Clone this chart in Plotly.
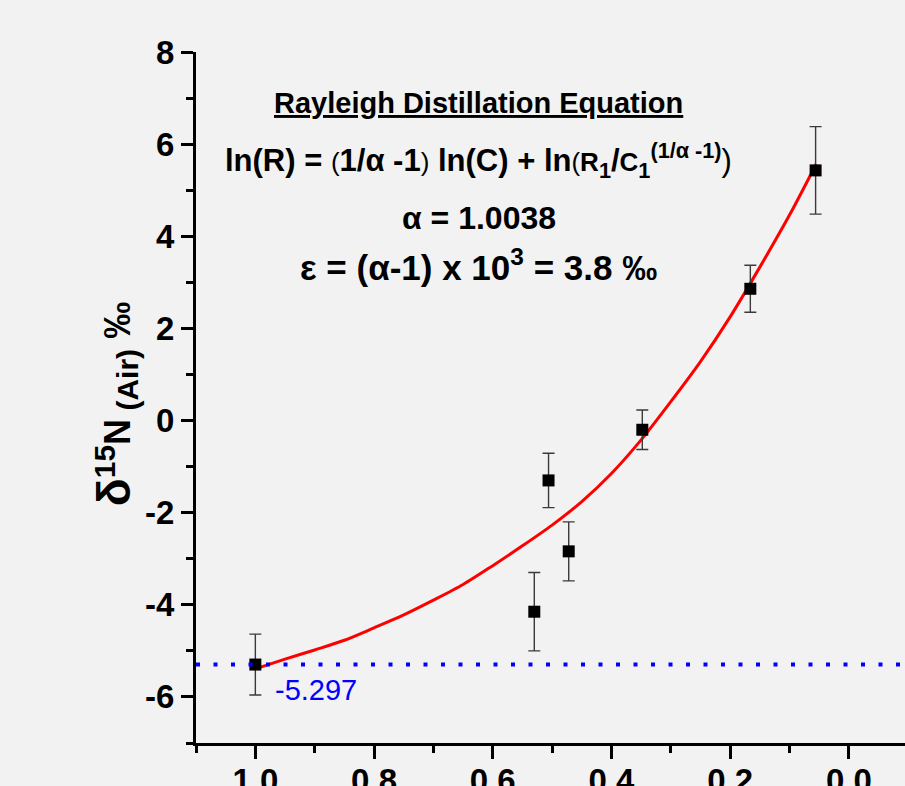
import plotly.graph_objects as go

# Measured data points (fraction remaining vs d15N)
frac = [1.0, 0.53, 0.506, 0.472, 0.348, 0.166, 0.056]
d15n = [-5.297, -4.15, -1.30, -2.84, -0.20, 2.86, 5.43]
d15n_err = [0.66, 0.85, 0.59, 0.64, 0.43, 0.51, 0.95]

# Fitted Rayleigh curve
curve_x = [1.0, 0.95, 0.9, 0.85, 0.8, 0.75, 0.7, 0.65, 0.6, 0.55,
           0.5, 0.45, 0.4, 0.35, 0.3, 0.25, 0.2, 0.15, 0.1, 0.055]
curve_y = [-5.39, -5.18, -4.98, -4.77, -4.50, -4.22, -3.90, -3.56, -3.15, -2.72,
           -2.27, -1.76, -1.15, -0.42, 0.41, 1.28, 2.25, 3.33, 4.46, 5.57]

baseline = -5.297
baseline_label = "-5.297"

x_ticks = [1.0, 0.8, 0.6, 0.4, 0.2, 0.0]
x_ticklabels = ["1.0", "0.8", "0.6", "0.4", "0.2", "0.0"]
y_ticks = [8, 6, 4, 2, 0, -2, -4, -6]
y_ticklabels = ["8", "6", "4", "2", "0", "-2", "-4", "-6"]

FONT = "Liberation Sans, Arial, sans-serif"

fig = go.Figure()

fig.add_trace(go.Scatter(
    x=curve_x, y=curve_y, mode="lines",
    line=dict(color="#ff0000", width=3, shape="spline", smoothing=0.8),
    hoverinfo="skip", showlegend=False))

fig.add_trace(go.Scatter(
    x=frac, y=d15n, mode="markers",
    marker=dict(symbol="square", size=12, color="black"),
    error_y=dict(type="data", array=d15n_err, visible=True,
                 color="#3a3a3a", thickness=1.4, width=6),
    showlegend=False))

fig.add_shape(type="line", xref="paper", x0=0, x1=1, yref="y",
              y0=baseline, y1=baseline,
              line=dict(color="#0000ff", width=4, dash="4px,13.5px"))

fig.add_annotation(x=0.898, y=-5.845, xref="x", yref="y", text=baseline_label,
                   xanchor="center", yanchor="middle",
                   showarrow=False, font=dict(family=FONT, size=29, color="#0000ff"))

ann_font = dict(family=FONT, color="black")
fig.add_annotation(xref="paper", yref="paper", x=0.399, y=0.952,
                   xanchor="center", yanchor="top",
                   text="<b><u>Rayleigh Distillation Equation</u></b>",
                   showarrow=False, font=dict(size=29, **ann_font))
fig.add_annotation(xref="paper", yref="paper", x=0.399, y=0.878,
                   xanchor="center", yanchor="top",
                   text=("<b>ln(R) = </b><span style='font-size:26px'>(</span><b>1/α -1</b>"
                         "<span style='font-size:26px'>)</span><b> ln(C) + ln</b>"
                         "<span style='font-size:26px'>(</span><b><span style='font-size:26px'>R</span>"
                         "<sub>1</sub>/<span style='font-size:26px'>C</span><sub>1</sub>"
                         "<sup>(1/α -1)</sup></b>)"),
                   showarrow=False, font=dict(size=31, **ann_font))
fig.add_annotation(xref="paper", yref="paper", x=0.399, y=0.788,
                   xanchor="center", yanchor="top",
                   text="<b>α = 1.0038</b>",
                   showarrow=False, font=dict(size=32, **ann_font))
fig.add_annotation(xref="paper", yref="paper", x=0.399, y=0.727,
                   xanchor="center", yanchor="top",
                   text="<b>ε = (α-1) x 10<sup>3</sup> = 3.8 ‰</b>",
                   showarrow=False, font=dict(size=35, **ann_font))

# y-axis title
fig.add_annotation(xref="paper", yref="paper", x=-0.155, y=0.4905, textangle=-90,
                   xanchor="left", yanchor="middle",
                   text=("<b><span style='font-size:46px'>δ</span>"
                         "<sup><span style='font-size:30px'>15</span></sup>N"
                         "<sub><span style='font-size:30px'> (Air)</span></sub> "
                         "<span style='font-size:37px'>‰</span></b>"),
                   showarrow=False, font=dict(size=36, **ann_font))

fig.update_layout(
    width=905, height=786,
    margin=dict(l=196, r=0, t=52, b=43, autoexpand=False),
    paper_bgcolor="#f2f2f2", plot_bgcolor="#f2f2f2",
    font=dict(family=FONT, color="black"),
)

fig.update_xaxes(
    range=[1.1, 1.1 - 709 / 593.5], tickvals=x_ticks, ticktext=x_ticklabels,
    automargin=False, ticklabelstandoff=-7,
    showgrid=False, zeroline=False, showline=True, linecolor="black", linewidth=3,
    ticks="outside", ticklen=13, tickwidth=2.5, tickcolor="black",
    tickfont=dict(family=FONT, size=33, color="black", weight="bold"),
    minor=dict(dtick=0.1, ticks="outside", ticklen=7, tickwidth=2.5, tickcolor="black", tick0=0),
)
fig.update_yaxes(
    range=[-7, 8], tickvals=y_ticks, ticktext=y_ticklabels,
    automargin=False,
    showgrid=False, zeroline=False, showline=True, linecolor="black", linewidth=3,
    ticks="outside", ticklen=12, tickwidth=2.5, tickcolor="black",
    tickfont=dict(family=FONT, size=33, color="black", weight="bold"),
    minor=dict(dtick=1, ticks="outside", ticklen=7, tickwidth=2.5, tickcolor="black", tick0=0),
)

fig.write_html("out.html")
